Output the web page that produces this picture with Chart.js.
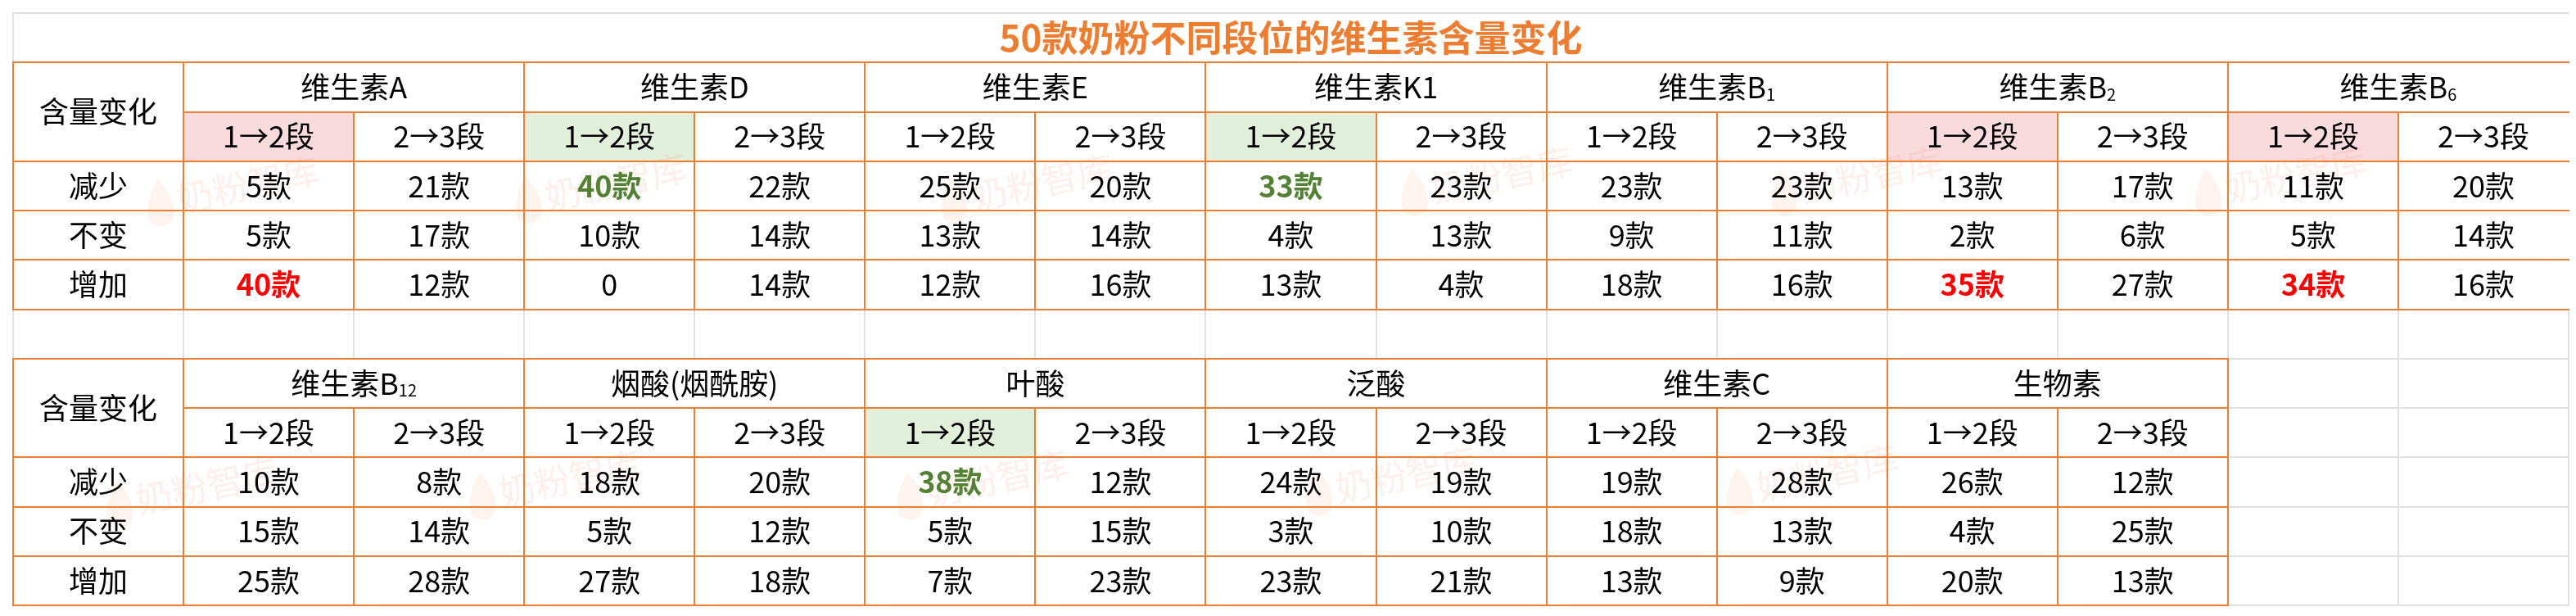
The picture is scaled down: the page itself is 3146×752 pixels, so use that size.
<!DOCTYPE html>
<html lang="zh-CN">
<head>
<meta charset="utf-8">
<title>50款奶粉不同段位的维生素含量变化</title>
<script src="https://cdn.jsdelivr.net/npm/chart.js@4"></script>
<style>
  html, body { margin: 0; padding: 0; background: #fff; overflow: hidden; }
  canvas { display: block; }
</style>
</head>
<body>
<canvas id="vitChart" width="3146" height="752"></canvas>
<script>
/* =========================
   DADOS
========================= */
const chartTitle = "50款奶粉不同段位的维生素含量变化";
const cornerLabel = "含量变化";
const rowLabels = ["减少", "不变", "增加"];
const stageLabels = ["1→2段", "2→3段"];

// "_" marks a subscript (B_1 -> B₁)
const nutrientsTop = ["维生素A", "维生素D", "维生素E", "维生素K1", "维生素B_1", "维生素B_2", "维生素B_6"];
const decreaseTop = [5, 21, 40, 22, 25, 20, 33, 23, 23, 23, 13, 17, 11, 20];
const sameTop     = [5, 17, 10, 14, 13, 14, 4, 13, 9, 11, 2, 6, 5, 14];
const increaseTop = [40, 12, 0, 14, 12, 16, 13, 4, 18, 16, 35, 27, 34, 16];
const pinkTop  = ["维生素A", "维生素B_2", "维生素B_6"];
const greenTop = ["维生素D", "维生素K1"];

const nutrientsBottom = ["维生素B_12", "烟酸(烟酰胺)", "叶酸", "泛酸", "维生素C", "生物素"];
const decreaseBottom = [10, 8, 18, 20, 38, 12, 24, 19, 19, 28, 26, 12];
const sameBottom     = [15, 14, 5, 12, 5, 15, 3, 10, 18, 13, 4, 25];
const increaseBottom = [25, 28, 27, 18, 7, 23, 23, 21, 13, 9, 20, 13];
const pinkBottom  = [];
const greenBottom = ["叶酸"];

/* =========================
   ESTILO
========================= */
const ORANGE = "#ED7D31";
const GRID = "#E1E1E1";
const PINK = "#F9DBDE";
const GREEN = "#E2EFDA";
const RED_TXT = "#FF0000";
const GREEN_TXT = "#548235";
const FONT = '"Noto Sans CJK SC", "Microsoft YaHei", sans-serif';

const tables = [
  { row: 1, nutrients: nutrientsTop, values: [decreaseTop, sameTop, increaseTop], pink: pinkTop, green: greenTop },
  { row: 7, nutrients: nutrientsBottom, values: [decreaseBottom, sameBottom, increaseBottom], pink: pinkBottom, green: greenBottom }
];

// watermark spots, in cell units
const watermarkSpots = [[1.34, 3.5], [3.5, 3.45], [6.0, 3.45], [8.7, 3.3], [10.87, 3.3], [13.36, 3.3],
                        [1.1, 9.6], [3.23, 9.45], [5.74, 9.45], [8.14, 9.37], [10.61, 9.34]];

function cellLabel(v) {
  return v === 0 ? "0" : v + "款";
}

/* =========================
   DATASETS (uma célula = um ponto)
========================= */
const datasets = [];
tables.forEach(t => {
  t.values.forEach((series, k) => {
    datasets.push({
      label: rowLabels[k],
      data: series.map((v, j) => {
        const name = t.nutrients[Math.floor(j / 2)];
        let color = "#000";
        if (j % 2 === 0 && k === 2 && t.pink.includes(name)) color = RED_TXT;
        if (j % 2 === 0 && k === 0 && t.green.includes(name)) color = GREEN_TXT;
        return { x: j + 1.5, y: t.row + 2 + k + 0.5, v, color };
      }),
      pointRadius: 0,
      pointHoverRadius: 0
    });
  });
});

/* =========================
   TABELA (plugin)
========================= */
function drawName(ctx, name, cx, cy) {
  const parts = name.split("_");
  ctx.textBaseline = "middle";
  ctx.textAlign = "left";
  ctx.font = "36px " + FONT;
  const wb = ctx.measureText(parts[0]).width;
  let ws = 0;
  if (parts[1]) {
    ctx.font = "20px " + FONT;
    ws = ctx.measureText(parts[1]).width;
  }
  const x0 = cx - (wb + ws) / 2;
  ctx.font = "36px " + FONT;
  ctx.fillText(parts[0], x0, cy);
  if (parts[1]) {
    ctx.font = "20px " + FONT;
    ctx.fillText(parts[1], x0 + wb, cy + 9);
  }
}

const tablePlugin = {
  id: "tablePlugin",
  beforeDatasetsDraw(chart) {
    const { ctx, scales: { x, y } } = chart;
    const X = c => Math.round(x.getPixelForValue(c));
    const Y = r => Math.round(y.getPixelForValue(r));

    function hLine(r, c1, c2, color) {
      ctx.strokeStyle = color;
      ctx.beginPath();
      ctx.moveTo(X(c1) - 1, Y(r));
      ctx.lineTo(X(c2) + 1, Y(r));
      ctx.stroke();
    }
    function vLine(c, r1, r2, color) {
      ctx.strokeStyle = color;
      ctx.beginPath();
      ctx.moveTo(X(c), Y(r1) - 1);
      ctx.lineTo(X(c), Y(r2) + 1);
      ctx.stroke();
    }

    ctx.save();
    ctx.fillStyle = "#fff";
    ctx.fillRect(0, 0, chart.width, chart.height);

    // header fills
    tables.forEach(t => {
      t.nutrients.forEach((name, i) => {
        const fill = t.pink.includes(name) ? PINK : (t.green.includes(name) ? GREEN : null);
        if (!fill) return;
        ctx.fillStyle = fill;
        ctx.fillRect(X(1 + 2 * i), Y(t.row + 1), X(2 + 2 * i) - X(1 + 2 * i), Y(t.row + 2) - Y(t.row + 1));
      });
    });

    // watermark
    watermarkSpots.forEach(([c, r]) => {
      ctx.save();
      ctx.translate(x.getPixelForValue(c), y.getPixelForValue(r));
      ctx.rotate(-0.21);
      ctx.fillStyle = "rgba(240, 140, 110, 0.14)";
      ctx.font = "44px " + FONT;
      ctx.textAlign = "left";
      ctx.textBaseline = "middle";
      ctx.fillText("奶粉智库", -80, 0);
      // drop-shaped logo
      ctx.fillStyle = "rgba(240, 150, 100, 0.10)";
      ctx.beginPath();
      ctx.moveTo(-98, -30);
      ctx.quadraticCurveTo(-80, 0, -90, 22);
      ctx.quadraticCurveTo(-104, 36, -118, 20);
      ctx.quadraticCurveTo(-124, 0, -98, -30);
      ctx.fill();
      ctx.restore();
    });

    // gray sheet grid
    ctx.lineWidth = 2;
    hLine(0, 0, 15, GRID);
    vLine(0, 0, 1, GRID);
    for (let c = 0; c <= 15; c++) vLine(c, 6, 7, GRID);
    const lastCol = 1 + 2 * tables[1].nutrients.length;
    for (let r = 7; r <= 12; r++) hLine(r, lastCol, 15, GRID);
    for (let c = lastCol + 1; c <= 15; c++) vLine(c, 7, 12, GRID);

    // orange borders
    tables.forEach(t => {
      const cols = 1 + 2 * t.nutrients.length;
      const r0 = t.row;
      hLine(r0, 0, cols, ORANGE);
      hLine(r0 + 1, 1, cols, ORANGE);
      for (let r = r0 + 2; r <= r0 + 5; r++) hLine(r, 0, cols, ORANGE);
      for (let c = 0; c < cols; c++) {
        if (c === 0 || c % 2 === 1) vLine(c, r0, r0 + 5, ORANGE);
        else vLine(c, r0 + 1, r0 + 5, ORANGE);
      }
      if (cols < 15) vLine(cols, r0, r0 + 5, ORANGE);
    });
    ctx.restore();
  },

  afterDatasetsDraw(chart) {
    const { ctx, scales: { x, y } } = chart;
    const X = c => x.getPixelForValue(c);
    const Y = r => y.getPixelForValue(r);
    ctx.save();
    ctx.textAlign = "center";
    ctx.textBaseline = "middle";

    // title
    ctx.fillStyle = ORANGE;
    ctx.font = "bold 44px " + FONT;
    ctx.fillText(chartTitle, X(7.5), Y(0.5));

    ctx.fillStyle = "#000";
    tables.forEach(t => {
      ctx.font = "36px " + FONT;
      ctx.textAlign = "center";
      ctx.fillText(cornerLabel, X(0.5), Y(t.row + 1));
      rowLabels.forEach((lab, k) => ctx.fillText(lab, X(0.5), Y(t.row + 2.5 + k)));
      t.nutrients.forEach((name, i) => {
        drawName(ctx, name, X(2 + 2 * i), Y(t.row + 0.5));
        ctx.font = "36px " + FONT;
        ctx.textAlign = "center";
        stageLabels.forEach((s, j) => ctx.fillText(s, X(1.5 + 2 * i + j), Y(t.row + 1.5)));
      });
    });

    // values from dataset points
    chart.data.datasets.forEach((ds, di) => {
      const meta = chart.getDatasetMeta(di);
      meta.data.forEach((pt, j) => {
        const d = ds.data[j];
        const bold = d.color !== "#000";
        ctx.font = (bold ? "bold " : "") + "36px " + FONT;
        ctx.fillStyle = d.color;
        ctx.fillText(cellLabel(d.v), pt.x, pt.y);
      });
    });
    ctx.restore();
  }
};

new Chart(document.getElementById("vitChart"), {
  type: "scatter",
  data: { datasets },
  options: {
    responsive: false,
    animation: false,
    devicePixelRatio: 1,
    events: [],
    layout: { padding: { left: 16, right: 9, top: 16, bottom: 13 } },
    plugins: {
      legend: { display: false },
      tooltip: { enabled: false }
    },
    scales: {
      x: { type: "linear", min: 0, max: 15, display: false },
      y: { type: "linear", min: 0, max: 12, reverse: true, display: false }
    }
  },
  plugins: [tablePlugin]
});
</script>
</body>
</html>
